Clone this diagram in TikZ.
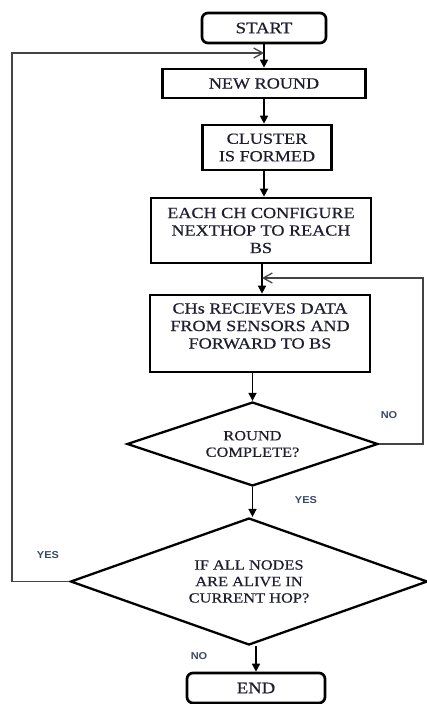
\documentclass[tikz,border=0pt]{standalone}
\usepackage{fontspec}
\setmainfont{Liberation Serif}[FakeStretch=1.17,FakeBold=0.5]
\newfontfamily\lblfont{Liberation Sans}[FakeStretch=1.1]
\usetikzlibrary{shapes.geometric,arrows.meta,calc}
\definecolor{lblcol}{HTML}{3A4868}
\definecolor{loopgray}{HTML}{444444}
\definecolor{txtcol}{HTML}{1E1E30}
\begin{document}
\begin{tikzpicture}[x=1pt,y=-1pt,
  box/.style={draw, line width=2.7pt, rectangle, align=center, inner sep=0pt, text=txtcol, font=\fontsize{15.5}{17.5}\selectfont},
  rbox/.style={box, rounded corners=6pt, font=\fontsize{16}{18}\selectfont},
  btext/.style={align=center, inner sep=0pt, text=txtcol, font=\fontsize{15.5}{17.5}\selectfont},
  dec/.style={draw, diamond, line width=2.3pt, aspect=2.8, inner sep=0pt, align=center, text=txtcol, font=\fontsize{14}{16.5}\selectfont},
  arr/.style={line width=1.6pt, -{Triangle[length=8pt,width=8pt]}},
  loopl/.style={line width=1.9pt, draw=loopgray, -{Straight Barb[length=9pt,width=10pt,line width=1.3pt]}},
  loopr/.style={line width=1.1pt, draw=loopgray, -{Straight Barb[length=9pt,width=10pt,line width=1.3pt]}},
  lbl/.style={font=\lblfont\bfseries\fontsize{10}{12}\selectfont, text=lblcol, inner sep=0pt},
]
\useasboundingbox (0,0) rectangle (426,704);

\node[rbox, minimum width=124pt, minimum height=30pt] (start) at (264,28) {START};
\node[box, minimum width=203pt, minimum height=29pt] (newround) at (264,83.5) {NEW ROUND};
\node[box, minimum width=129pt, minimum height=45pt] (cluster) at (267,147.5) {CLUSTER\\IS FORMED};
\node[box, minimum width=220pt, minimum height=65pt] (each) at (261,230.5) {EACH CH CONFIGURE\\NEXTHOP TO REACH\\BS};
\node[box, minimum width=220pt, minimum height=77pt] (chs) at (260,333.5) {};
\node[btext] (chstext) at (260,326) {CHs RECIEVES DATA\\FROM SENSORS AND\\FORWARD TO BS};
\node[dec, minimum width=251pt, minimum height=84pt] (d1) at (252.5,444) {ROUND\\COMPLETE?};
\node[dec, minimum width=357pt, minimum height=127pt] (d2) at (249,581.5) {IF ALL NODES\\ARE ALIVE IN\\CURRENT HOP?};
\node[rbox, minimum width=138pt, minimum height=30pt] (end) at (256,688) {END};

\coordinate (lj) at (264,53);
\coordinate (lc1) at (12,581.5);
\coordinate (lc2) at (12,53);
\coordinate (rj) at (262,278);
\coordinate (rc1) at (423,444);
\coordinate (rc2) at (423,278);

\draw[arr] (start.south) -- (start.south |- newround.north);
\draw[arr] (newround.south) -- (newround.south |- cluster.north);
\draw[arr] (cluster.south -| newround.south) -- (newround.south |- each.north);
\draw[arr] (each.south -| rj) -- (rj |- chs.north);
\draw[arr] (chs.south -| d1.north) -- (d1.north);
\draw[arr] (d1.south) -- (d1.south |- d2.north);
\draw[arr] (d2.south -| end.north) -- (end.north);

\draw[loopr] (d1.east) -- (rc1) -- (rc2) -- (rj);
\draw[loopl] (d2.west) -- (lc1) -- (lc2) -- (lj);

\node[lbl] (no1) at (389,415) {NO};
\node[lbl] (yes1) at (306,500) {YES};
\node[lbl] (yes2) at (48,555) {YES};
\node[lbl] (no2) at (199,656) {NO};
\end{tikzpicture}
\end{document}
